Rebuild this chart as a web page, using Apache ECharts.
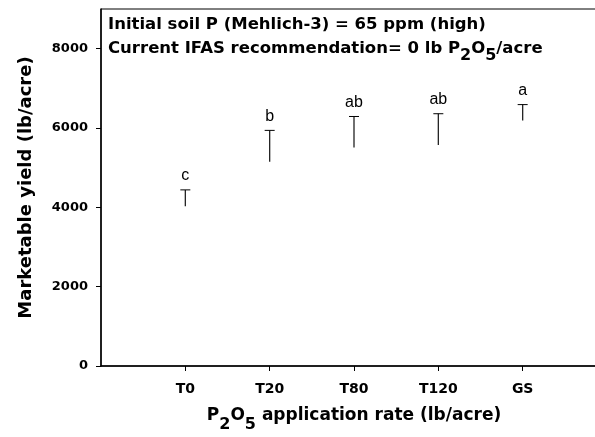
<!DOCTYPE html>
<html>
<head>
<meta charset="utf-8">
<script src="https://cdn.jsdelivr.net/npm/echarts@6/dist/echarts.min.js"></script>
<style>
    html, body { margin: 0; padding: 0; background: #fff; }
    #chart { width: 595px; height: 437px; }
</style>
</head>
<body>
<div id="chart"></div>
<script>
// 处理 (treatments)
var treatments = ['T0', 'T20', 'T80', 'T120', 'GS'];
// 平均产量 (lb/acre)
var yieldMean = [4025, 5150, 5510, 5570, 6190];
// 误差线上端
var yieldUpper = [4440, 5940, 6290, 6360, 6590];
// 显著性字母
var sigLetters = ['c', 'b', 'ab', 'ab', 'a'];
var yTicks = [0, 2000, 4000, 6000, 8000];

var boldFont = 'DejaVu Sans, sans-serif';
var plainFont = 'Liberation Sans, Arial, sans-serif';

var chart = echarts.init(document.getElementById('chart'));

var errData = treatments.map(function(t, i){
    return [i + 1, yieldMean[i], yieldUpper[i], sigLetters[i]];
});

var option = {
    animation: false,
    backgroundColor: '#fff',
    grid: {
        left: 101,
        top: 9,
        width: 506,
        bottom: 71,
        outerBoundsMode: 'none',
        containLabel: false,
        show: true,
        borderColor: '#000',
        borderWidth: 1
    },
    xAxis: {
        type: 'value',
        min: 0,
        max: 6,
        interval: 1,
        splitLine: { show: false },
        axisLine: { lineStyle: { color: '#000', width: 1.5 } },
        axisTick: { length: 5, lineStyle: { color: '#000' }, customValues: [1, 2, 3, 4, 5] },
        axisLabel: {
            customValues: [1, 2, 3, 4, 5],
            margin: 16,
            color: '#000',
            fontFamily: boldFont,
            fontWeight: 'bold',
            fontSize: 14,
            formatter: function(v){ return treatments[v - 1] || ''; }
        },
        name: '{m|P}{s|2}{m|O}{s|5}{m| application rate (lb/acre)}',
        nameLocation: 'middle',
        nameGap: 41,
        nameTextStyle: {
            rich: {
                m: { fontFamily: boldFont, fontWeight: 'bold', fontSize: 17, color: '#000', lineHeight: 26, verticalAlign: 'top' },
                s: { fontFamily: boldFont, fontWeight: 'bold', fontSize: 16, color: '#000', lineHeight: 14, verticalAlign: 'bottom' }
            }
        }
    },
    yAxis: {
        type: 'value',
        min: 0,
        max: 9000,
        interval: 2000,
        splitLine: { show: false },
        axisLine: { lineStyle: { color: '#000', width: 1.5 } },
        axisTick: { length: 5, lineStyle: { color: '#000' }, customValues: yTicks },
        axisLabel: {
            customValues: yTicks,
            margin: 13,
            color: '#000',
            fontFamily: boldFont,
            fontWeight: 'bold',
            fontSize: 13,
            formatter: function(v){ return String(v); }
        },
        name: 'Marketable yield (lb/acre)',
        nameLocation: 'middle',
        nameGap: 66,
        nameTextStyle: { fontFamily: boldFont, fontWeight: 'bold', fontSize: 18, color: '#000' }
    },
    series: [{
        type: 'custom',
        data: errData,
        renderItem: function(params, api){
            var x = api.value(0);
            var lo = api.coord([x, api.value(1)]);
            var hi = api.coord([x, api.value(2)]);
            var letter = sigLetters[params.dataIndex];
            return {
                type: 'group',
                children: [
                    { type: 'line', shape: { x1: lo[0], y1: lo[1], x2: hi[0], y2: hi[1] },
                      style: { stroke: '#222', lineWidth: 1.3 } },
                    { type: 'line', shape: { x1: hi[0] - 5, y1: hi[1], x2: hi[0] + 5, y2: hi[1] },
                      style: { stroke: '#000', lineWidth: 1 } },
                    { type: 'text', x: hi[0], y: hi[1] - 6,
                      style: { text: letter, fill: '#000', font: '16px ' + plainFont,
                               textAlign: 'center', textVerticalAlign: 'bottom' } }
                ]
            };
        }
    }],
    graphic: [{
        type: 'text',
        left: 108,
        top: 16,
        style: {
            text: '{m|Initial soil P (Mehlich-3) = 65 ppm (high)}\n{m|Current IFAS recommendation= 0 lb P}{s|2}{m|O}{s|5}{m|/acre}',
            rich: {
                m: { font: 'bold 16.5px ' + boldFont, fill: '#000', lineHeight: 24, verticalAlign: 'top' },
                s: { font: 'bold 16px ' + boldFont, fill: '#000', lineHeight: 15, verticalAlign: 'bottom' }
            }
        }
    }]
};

chart.setOption(option);
</script>
</body>
</html>
